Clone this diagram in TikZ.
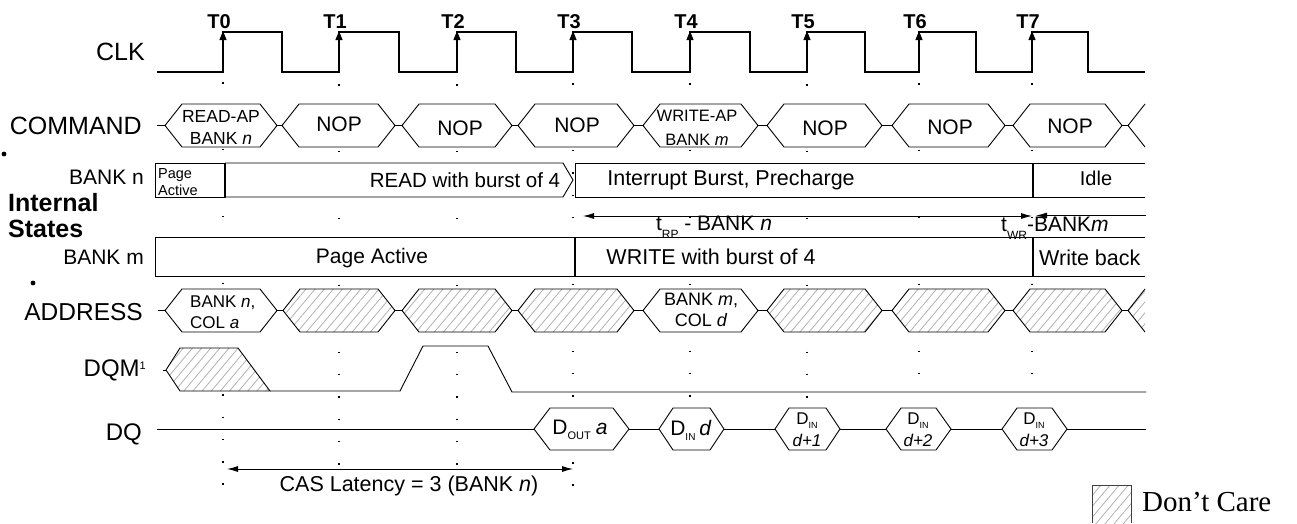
\documentclass[tikz,border=0pt]{standalone}
\usepackage{fontspec}
\setmainfont{Liberation Sans}
\newfontfamily\serifdc{Liberation Serif}
\usetikzlibrary{patterns.meta,arrows.meta}
\newcommand{\fsz}[1]{\fontsize{#1}{#1}\selectfont}
\newcommand{\hexbox}[6]{\draw[#1] (#2,#4) -- ({#2+#6},{#4-#5}) -- ({#3-#6},{#4-#5}) -- (#3,#4) -- ({#3-#6},{#4+#5}) -- ({#2+#6},{#4+#5}) -- cycle;}
\begin{document}
\begin{tikzpicture}[x=1pt,y=-1pt,
  sig/.style={line width=0.9pt},
  clk/.style={line width=2.2pt, line join=miter},
  dotgrid/.style={line width=1.5pt, dash pattern=on 1.5pt off 20.8pt},
  hatch/.style={preaction={fill=white}, pattern={Lines[angle=50,distance=7pt,line width=0.8pt]}, pattern color=gray!60},
  lbl/.style={inner sep=0pt, anchor=east, font=\fsz{25}},
  txt/.style={inner sep=0pt},
  edgearr/.style={-{Triangle[width=7pt,length=9pt]}, line width=1pt},
  dimarr/.style={line width=0.9pt},
  divider/.style={line width=1.8pt},
]
\useasboundingbox (0,0) rectangle (1297,523);

% dotted grid at the rising edges
\foreach \x/\ya/\yb in {223/82/492,339/84/468,457/84/468,573/83/494,690/83/402,807/84/404,919/83/394,1032/83/394}
  \draw[dotgrid] (\x,\ya) -- (\x,\yb);

% clock
\draw[clk] (157,72) -- (223,72) -- (223,32) -- (282,32) -- (282,72) -- (339,72) -- (339,32) -- (399,32) -- (399,72) -- (457,72) -- (457,32) -- (516,32) -- (516,72) -- (573,72) -- (573,32) -- (632,32) -- (632,72) -- (690,72) -- (690,32) -- (750,32) -- (750,72) -- (807,72) -- (807,32) -- (865,32) -- (865,72) -- (919,72) -- (919,32) -- (976,32) -- (976,72) -- (1032,72) -- (1032,32) -- (1088,32) -- (1088,72) -- (1145,72);
\foreach \x/\t in {223/0,339/1,457/2,573/3,690/4,807/5,919/6,1032/7}{
  \coordinate (e\t a) at (\x,50);
  \coordinate (e\t b) at (\x,31);
  \draw[edgearr] (e\t a) -- (e\t b);
  \node[txt, font=\bfseries\fsz{20}] (T\t) at (\x-4,22) {T\t};
}

% command row
\foreach \a/\b in {165/277,282/395,402/512,518/634,643/758,767/882,892/1005,1013/1122}
  \hexbox{sig,fill=white}{\a}{\b}{125.5}{21.5}{17}
\foreach \a/\b in {157/165,277/282,395/402,512/518,634/643,758/767,882/892,1005/1013,1122/1128}
  \draw[sig] (\a,125.5) -- (\b,125.5);
\draw[sig] (1145,104) -- (1128,125.5) -- (1145,147);

% address row
\hexbox{sig,fill=white}{165}{277}{310.5}{21.5}{17}
\hexbox{sig,fill=white}{643}{758}{310.5}{21.5}{17}
\foreach \a/\b in {283/395,402/512,518/634,767/882,892/1005,1013/1122}
  \hexbox{sig,hatch}{\a}{\b}{310.5}{21.5}{17}
\foreach \a/\b in {158/165,277/283,395/402,512/518,634/643,758/767,882/892,1005/1013,1122/1128}
  \draw[sig] (\a,310.5) -- (\b,310.5);
\fill[hatch] (1145,289) -- (1128,310.5) -- (1145,332) -- cycle;
\draw[sig] (1145,289) -- (1128,310.5) -- (1145,332);

% bank n row
\draw[sig,fill=white] (155,163) rectangle (225,197);
\draw[sig,fill=white] (225,163) -- (563,163) -- (573,180) -- (563,197) -- (225,197);
\draw[sig,fill=white] (575,163) rectangle (1033,197);
\fill[white] (1033,163) rectangle (1145,197);
\draw[sig] (1033,163) -- (1145,163) (1033,197) -- (1145,197);
\draw[divider] (225,163) -- (225,197);
\draw[divider] (1033,163) -- (1033,197);

% timing arrows
\coordinate (rpA) at (583,216);
\coordinate (rpB) at (1032,216);
\coordinate (wrA) at (1036,215.5);
\coordinate (wrB) at (1146,215.5);
\draw[dimarr,{Latex[width=6pt,length=11pt]}-{Latex[width=6pt,length=11pt]}] (rpA) -- (rpB);
\draw[dimarr,{Latex[width=6pt,length=11pt]}-] (wrA) -- (wrB);

% bank m row
\fill[white] (155,237) rectangle (1145,276);
\draw[sig] (1145,237) -- (155,237) -- (155,276) -- (1145,276);
\draw[divider] (575,237) -- (575,276);
\draw[divider] (1033,237) -- (1033,276);

% DQM row
\draw[sig] (163,370) -- (166,370);
\draw[sig,hatch] (166,370) -- (180,348) -- (238,348) -- (270,391) -- (180,391) -- cycle;
\draw[sig] (270,391) -- (400,391) -- (423,346) -- (488,346) -- (512,392) -- (1146,392);

% DQ row
\hexbox{sig,fill=white}{534}{629}{429}{21}{16}
\hexbox{sig,fill=white}{659}{724}{429}{21}{14}
\hexbox{sig,fill=white}{775}{840}{429}{21}{14}
\hexbox{sig,fill=white}{886}{951}{429}{21}{15}
\hexbox{sig,fill=white}{1002}{1067}{429}{21}{15}
\foreach \a/\b in {157/534,629/659,724/775,840/886,951/1002,1067/1146}
  \draw[sig] (\a,429.5) -- (\b,429.5);

% CAS latency
\coordinate (casA) at (227,469);
\coordinate (casB) at (573,469);
\draw[dimarr,{Latex[width=6pt,length=11pt]}-{Latex[width=6pt,length=11pt]}] (casA) -- (casB);
\node[txt,font=\fsz{21.5}] (cas) at (409,486) {CAS Latency = 3 (BANK \textit{n})};

% legend
\fill[hatch] (1092,485) rectangle (1131,523);
\draw[line width=1pt, draw=black!75] (1092,523) -- (1092,485) -- (1131,485) -- (1131,523);
\node[txt, anchor=west, font=\serifdc\fsz{29}] (dc) at (1142,502) {Don’t Care};

% bullets
\fill (4,154) circle (2.4pt);
\fill (33,283) circle (2.4pt);

% row labels
\node[lbl] (clkl) at (145,52) {CLK};
\node[lbl] (cmdl) at (142,126) {COMMAND};
\node[lbl,font=\fsz{21}] (bnl) at (144,177) {BANK n};
\node[txt, anchor=west, align=left, font=\bfseries\fontsize{25}{26}\selectfont] (isl) at (8,216) {Internal\\States};
\node[lbl,font=\fsz{21}] (bml) at (144,257) {BANK m};
\node[lbl,font=\fsz{24.5}] (adl) at (143,312) {ADDRESS};
\node[lbl,font=\fsz{24}] (dqml) at (146,370) {DQM\raisebox{7pt}{\fsz{11}1}};
\node[lbl,font=\fsz{24}] (dql) at (142,434) {DQ};

% command texts
\node[txt, align=center, font=\fontsize{17.5}{22}\selectfont] (c0) at (221,127) {READ-AP\\BANK \textit{n}};
\node[txt, font=\fsz{21}] (c1) at (339,124) {NOP};
\node[txt, font=\fsz{21}] (c2) at (460,128) {NOP};
\node[txt, font=\fsz{21}] (c3) at (577,125) {NOP};
\node[txt, align=center, font=\fontsize{16.5}{24}\selectfont] (c4) at (697,128) {WRITE-AP\\BANK \textit{m}};
\node[txt, font=\fsz{21}] (c5) at (825,128) {NOP};
\node[txt, font=\fsz{21}] (c6) at (950,127) {NOP};
\node[txt, font=\fsz{21}] (c7) at (1070,126) {NOP};

% address texts
\node[txt, anchor=west, align=left, font=\fontsize{17}{21}\selectfont] (a0) at (190,312) {BANK \textit{n},\\COL \textit{a}};
\node[txt, align=center, font=\fontsize{18}{21}\selectfont] (a4) at (701,310) {BANK \textit{m},\\COL \textit{d}};

% bank texts
\node[txt, anchor=west, align=left, font=\fontsize{14.5}{17}\selectfont] (pa) at (158,182) {Page\\Active};
\node[txt, font=\fsz{20.5}] (rd) at (465,180) {READ with burst of 4};
\node[txt, font=\fsz{21.5}] (ib) at (731,180) {Interrupt Burst, Precharge};
\node[txt, font=\fsz{20}] (idle) at (1096,178) {Idle};
\node[txt, font=\fsz{21}] (pam) at (372,258) {Page Active};
\node[txt, font=\fsz{21.5}] (wb4) at (711,257) {WRITE with burst of 4};
\node[txt, anchor=west, font=\fsz{21.5}] (wbk) at (1039,258) {Write back};

% timing labels
\node[txt, font=\fsz{21}] (trp) at (714,227) {t\raisebox{-8pt}{\fsz{12}RP} - BANK \textit{n}};
\node[txt, anchor=west, font=\fsz{21}] (twr) at (1001,228) {t\raisebox{-8pt}{\fsz{12}WR}-BANK\textit{m}};

% DQ texts
\node[txt] (d0) at (580,430) {\fsz{21}D\raisebox{-5pt}{\fsz{11}OUT}\hspace{5pt}\textit{a}};
\node[txt] (d1) at (691,430) {\fsz{21}D\raisebox{-5pt}{\fsz{10}IN}\hspace{4pt}\textit{d}};
\node[txt, align=center, font=\fontsize{17}{22}\selectfont] (d2) at (807,430) {D\raisebox{-4pt}{\fsz{9}IN}\\\textit{d+1}};
\node[txt, align=center, font=\fontsize{17}{22}\selectfont] (d3) at (918,430) {D\raisebox{-4pt}{\fsz{9}IN}\\\textit{d+2}};
\node[txt, align=center, font=\fontsize{17}{22}\selectfont] (d4) at (1034,430) {D\raisebox{-4pt}{\fsz{9}IN}\\\textit{d+3}};
\end{tikzpicture}
\end{document}
